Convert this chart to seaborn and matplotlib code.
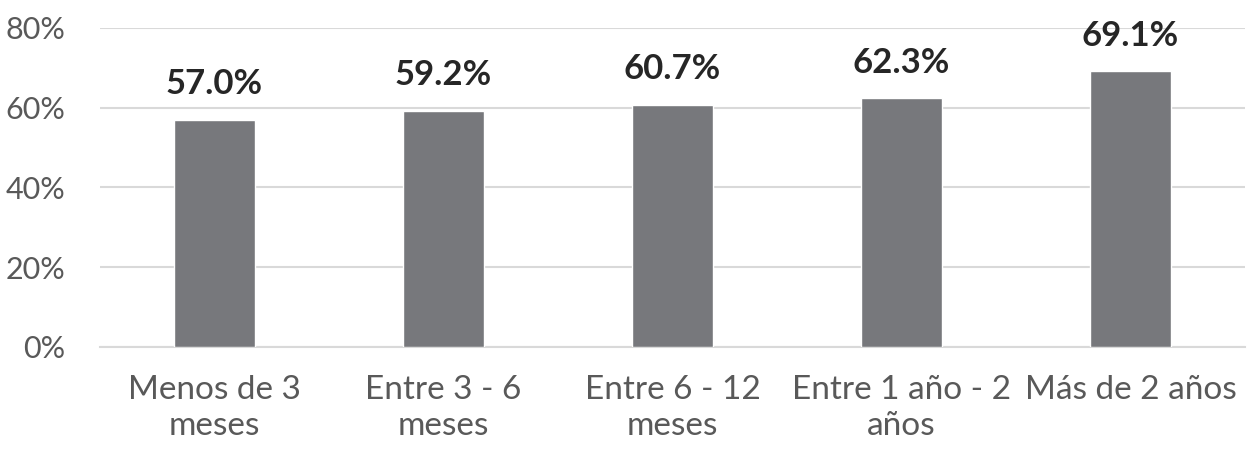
import pandas as pd
import matplotlib.pyplot as plt
import seaborn as sns

# datos
categorias = ["Menos de 3\nmeses", "Entre 3 - 6\nmeses", "Entre 6 - 12\nmeses",
              "Entre 1 año - 2\naños", "Más de 2 años"]
valores = [57.0, 59.2, 60.7, 62.3, 69.1]

df = pd.DataFrame({"categoria": categorias, "valor": valores})

sns.set_style("white")
plt.rcParams['font.family'] = ['Lato', 'DejaVu Sans']

fig = plt.figure(figsize=(12.5, 4.5), dpi=100)
ax = fig.add_axes([0.08, 0.229, 0.916, 0.709])

sns.barplot(data=df, x="categoria", y="valor", color="#77787c",
            width=0.35, saturation=1, ax=ax, zorder=3)

# etiquetas sobre las barras
for i, v in enumerate(valores):
    ax.annotate(f"{v:.1f}%", (i, v), xytext=(0, 14), textcoords="offset points",
                ha="center", va="bottom", fontsize=25, fontweight="bold",
                color="#262626")

ax.set_ylim(0, 80)
ax.set_yticks([0, 20, 40, 60, 80])
ax.set_yticklabels([f"{t}%" for t in [0, 20, 40, 60, 80]])
ax.yaxis.grid(True, color="#d9d9d9", linewidth=1.5, zorder=0)
ax.set_axisbelow(True)
ax.set_xlabel("")
ax.set_ylabel("")
ax.tick_params(axis="both", length=0, labelcolor="#595959")
ax.tick_params(axis="y", pad=25, labelsize=22)
ax.tick_params(axis="x", pad=20, labelsize=24)
for lbl in ax.get_xticklabels():
    lbl.set_linespacing(1.25)
for s in ["top", "right", "left"]:
    ax.spines[s].set_visible(False)
ax.spines["bottom"].set_color("#d9d9d9")
ax.spines["bottom"].set_linewidth(1.5)
ax.set_xlim(-0.5, 4.5)

fig.savefig("out.png", dpi=100)
